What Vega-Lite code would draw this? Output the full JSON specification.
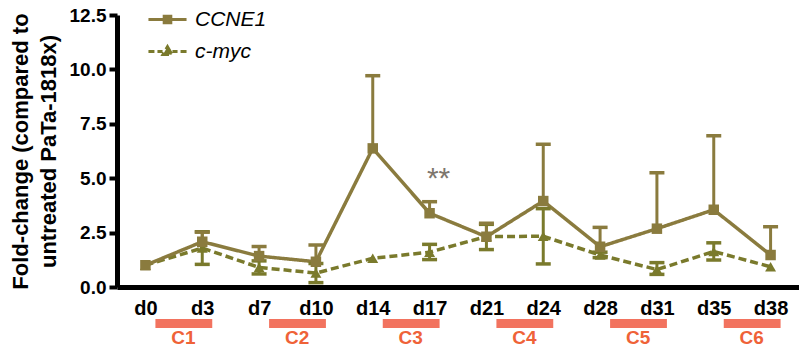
{
  "$schema": "https://vega.github.io/schema/vega-lite/v6.json",
  "width": 682,
  "height": 272,
  "autosize": {"type": "none"},
  "padding": {"left": 117, "top": 15, "right": 0, "bottom": 69},
  "background": "white",
  "config": {"view": {"stroke": null}, "font": "Liberation Sans"},
  "datasets": {
    "expr": [
      {"gene": "c-myc", "day": "d0", "value": 1.0, "lo": 1.0, "hi": 1.0},
      {"gene": "c-myc", "day": "d3", "value": 1.79, "lo": 1.04, "hi": 2.54},
      {"gene": "c-myc", "day": "d7", "value": 0.9, "lo": 0.6, "hi": 1.2},
      {"gene": "c-myc", "day": "d10", "value": 0.64, "lo": 0.2, "hi": 1.08},
      {"gene": "c-myc", "day": "d14", "value": 1.32, "lo": 1.32, "hi": 1.32},
      {"gene": "c-myc", "day": "d17", "value": 1.6, "lo": 1.26, "hi": 1.96},
      {"gene": "c-myc", "day": "d21", "value": 2.32, "lo": 1.72, "hi": 2.88},
      {"gene": "c-myc", "day": "d24", "value": 2.33, "lo": 1.06, "hi": 3.6},
      {"gene": "c-myc", "day": "d28", "value": 1.47, "lo": 1.35, "hi": 1.6},
      {"gene": "c-myc", "day": "d31", "value": 0.8, "lo": 0.58, "hi": 1.12},
      {"gene": "c-myc", "day": "d35", "value": 1.63, "lo": 1.24, "hi": 2.03},
      {"gene": "c-myc", "day": "d38", "value": 0.93, "lo": 0.93, "hi": 0.93},
      {"gene": "CCNE1", "day": "d0", "value": 1.0, "lo": 1.0, "hi": 1.0},
      {"gene": "CCNE1", "day": "d3", "value": 2.08, "lo": 2.08, "hi": 2.52},
      {"gene": "CCNE1", "day": "d7", "value": 1.42, "lo": 1.42, "hi": 1.86},
      {"gene": "CCNE1", "day": "d10", "value": 1.16, "lo": 1.16, "hi": 1.93},
      {"gene": "CCNE1", "day": "d14", "value": 6.37, "lo": 6.37, "hi": 9.71},
      {"gene": "CCNE1", "day": "d17", "value": 3.39, "lo": 3.39, "hi": 3.92},
      {"gene": "CCNE1", "day": "d21", "value": 2.31, "lo": 2.31, "hi": 2.93},
      {"gene": "CCNE1", "day": "d24", "value": 3.95, "lo": 3.95, "hi": 6.56},
      {"gene": "CCNE1", "day": "d28", "value": 1.85, "lo": 1.85, "hi": 2.74},
      {"gene": "CCNE1", "day": "d31", "value": 2.68, "lo": 2.68, "hi": 5.25},
      {"gene": "CCNE1", "day": "d35", "value": 3.55, "lo": 3.55, "hi": 6.95},
      {"gene": "CCNE1", "day": "d38", "value": 1.47, "lo": 1.47, "hi": 2.77}
    ],
    "cycles": [
      {"cycle": "C1", "start": "d0", "end": "d3"},
      {"cycle": "C2", "start": "d7", "end": "d10"},
      {"cycle": "C3", "start": "d14", "end": "d17"},
      {"cycle": "C4", "start": "d21", "end": "d24"},
      {"cycle": "C5", "start": "d28", "end": "d31"},
      {"cycle": "C6", "start": "d35", "end": "d38"}
    ],
    "notes": [
      {"day": "d17", "text": "**"}
    ]
  },
  "layer": [
    {
      "data": {"name": "expr"},
      "mark": {"type": "line", "strokeWidth": 3.5},
      "encoding": {
        "x": {
          "field": "day", "type": "ordinal", "title": null,
          "scale": {"type": "point", "domain": ["d0","d3","d7","d10","d14","d17","d21","d24","d28","d31","d35","d38"]},
          "axis": {"labelAngle": 0, "ticks": false, "domainWidth": 5, "domainColor": "black", "labelFontSize": 20, "labelFontWeight": "bold", "labelColor": "black", "labelPadding": 11, "grid": false}
        },
        "y": {
          "field": "value", "type": "quantitative",
          "scale": {"domain": [0, 12.5], "nice": false},
          "axis": {"title": ["Fold-change (compared to", "untreated PaTa-1818x)"], "titleFontSize": 22, "titleFontWeight": "bold", "titleColor": "black", "titleLineHeight": 28, "titlePadding": 9,
                   "values": [0, 2.5, 5, 7.5, 10, 12.5], "format": ".1f", "grid": false, "domainWidth": 5, "domainColor": "black", "tickSize": 8, "tickWidth": 4, "tickColor": "black",
                   "labelFontSize": 19, "labelFontWeight": "bold", "labelColor": "black", "labelPadding": 3}
        },
        "color": {
          "field": "gene", "type": "nominal",
          "scale": {"domain": ["CCNE1", "c-myc"], "range": ["#8a7b3e", "#7a7a2c"]},
          "legend": {
            "orient": "none", "legendX": 34, "legendY": -12, "title": null, "padding": 0, "rowPadding": 5, "labelOffset": 11,
            "labelFontSize": 21, "labelFontStyle": "italic", "labelColor": "black", "symbolSize": 900, "symbolStrokeWidth": 3,
            "encode": {"symbols": {"update": {
              "shape": {"signal": "datum.value === 'CCNE1' ? 'M-1.27,0H1.27M-0.22,-0.22H0.22V0.22H-0.22Z' : 'M-1.27,0H-0.87M-0.67,0H-0.33M0.33,0H0.67M0.87,0H1.27M0,-0.32L0.3,0.2L-0.3,0.2Z'"},
              "fill": {"scale": "color", "field": "value"},
              "stroke": {"scale": "color", "field": "value"},
              "strokeDash": {"value": []},
              "opacity": {"value": 1},
              "fillOpacity": {"value": 1}
            }}}
          }
        },
        "strokeDash": {"field": "gene", "type": "nominal", "scale": {"domain": ["CCNE1", "c-myc"], "range": [[1, 0], [8, 4]]}, "legend": null}
      }
    },
    {
      "data": {"name": "expr"},
      "transform": [{"filter": "datum.hi > datum.lo"}],
      "mark": {"type": "rule", "strokeWidth": 3},
      "encoding": {
        "x": {"field": "day", "type": "ordinal", "title": null},
        "y": {"field": "lo", "type": "quantitative"},
        "y2": {"field": "hi"},
        "color": {"field": "gene", "type": "nominal"}
      }
    },
    {
      "data": {"name": "expr"},
      "transform": [{"filter": "datum.hi > datum.value"}],
      "mark": {"type": "tick", "size": 15, "thickness": 3.5, "opacity": 1},
      "encoding": {
        "x": {"field": "day", "type": "ordinal", "title": null},
        "y": {"field": "hi", "type": "quantitative"},
        "color": {"field": "gene", "type": "nominal"}
      }
    },
    {
      "data": {"name": "expr"},
      "transform": [{"filter": "datum.lo < datum.value"}],
      "mark": {"type": "tick", "size": 15, "thickness": 3.5, "opacity": 1},
      "encoding": {
        "x": {"field": "day", "type": "ordinal", "title": null},
        "y": {"field": "lo", "type": "quantitative"},
        "color": {"field": "gene", "type": "nominal"}
      }
    },
    {
      "data": {"name": "expr"},
      "transform": [{"filter": "datum.gene === 'c-myc'"}],
      "mark": {"type": "point", "shape": "triangle-up", "filled": true, "opacity": 1, "size": 120},
      "encoding": {
        "x": {"field": "day", "type": "ordinal", "title": null},
        "y": {"field": "value", "type": "quantitative"},
        "color": {"field": "gene", "type": "nominal"}
      }
    },
    {
      "data": {"name": "expr"},
      "transform": [{"filter": "datum.gene === 'CCNE1'"}],
      "mark": {"type": "point", "shape": "square", "filled": true, "opacity": 1, "size": 110},
      "encoding": {
        "x": {"field": "day", "type": "ordinal", "title": null},
        "y": {"field": "value", "type": "quantitative"},
        "color": {"field": "gene", "type": "nominal"}
      }
    },
    {
      "data": {"name": "cycles"},
      "mark": {"type": "rule", "strokeWidth": 9, "strokeCap": "butt", "color": "#f2735f", "xOffset": 10, "x2Offset": 10},
      "encoding": {
        "x": {"field": "start", "type": "ordinal", "title": null},
        "x2": {"field": "end"},
        "y": {"datum": -1.68, "type": "quantitative"}
      }
    },
    {
      "data": {"name": "cycles"},
      "mark": {"type": "text", "dx": 38, "fontSize": 19, "fontWeight": "bold", "color": "#ef6238", "baseline": "middle", "align": "center"},
      "encoding": {
        "x": {"field": "start", "type": "ordinal", "title": null},
        "y": {"datum": -2.34, "type": "quantitative"},
        "text": {"field": "cycle"}
      }
    },
    {
      "data": {"name": "notes"},
      "mark": {"type": "text", "dx": 9, "fontSize": 30, "color": "#7d766d", "baseline": "alphabetic", "align": "center"},
      "encoding": {
        "x": {"field": "day", "type": "ordinal", "title": null},
        "y": {"datum": 4.55, "type": "quantitative"},
        "text": {"field": "text"}
      }
    }
  ]
}
